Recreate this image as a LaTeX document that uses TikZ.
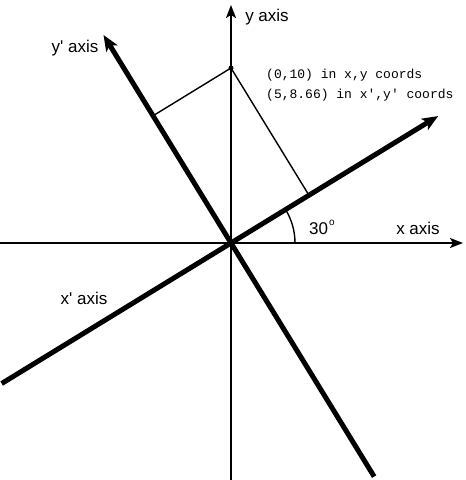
\documentclass[tikz,border=0pt]{standalone}
\usepackage{fontspec}
\setmainfont{Liberation Sans}
\newfontfamily\monofont{Liberation Mono}
\usetikzlibrary{arrows.meta,calc}
\begin{document}
\begin{tikzpicture}[x=1pt,y=1pt,
  thinaxis/.style={line width=2pt,-{Stealth[length=13pt,width=10pt,inset=3pt]}},
  thickaxis/.style={line width=5pt,-{Stealth[length=16pt,width=13pt,inset=4pt]}},
  proj/.style={line width=1.4pt},
  lab/.style={font=\fontsize{17}{19}\selectfont, inner sep=0pt},
  mono/.style={font=\monofont\fontsize{13}{15}\selectfont, inner sep=0pt, anchor=west}]
\useasboundingbox (0,0) rectangle (466,480);
\coordinate (O) at (231,237);
\coordinate (xL) at (0,237);
\coordinate (xR) at (463,237);
\coordinate (yB) at (231,0);
\coordinate (yT) at (231,475);
\coordinate (xpL) at ($(O)+(211.5:269)$);
\coordinate (xpR) at ($(O)+(31.5:243)$);
\coordinate (ypB) at ($(O)+(301.5:274)$);
\coordinate (ypT) at ($(O)+(121.5:244)$);
\coordinate (P) at (231,412);
\coordinate (Fx) at ($(O)!(P)!(xpR)$);
\coordinate (Fy) at ($(O)!(P)!(ypT)$);
\draw[thinaxis] (xL) -- (xR);
\draw[thinaxis] (yB) -- (yT);
\draw[thickaxis] (xpL) -- (xpR);
\draw[thickaxis] (ypB) -- (ypT);
\draw[proj] (Fy) -- (P) -- (Fx);
\fill (P) circle (2.5);
\draw[line width=1.4pt] ($(O)+(64,0)$) arc[start angle=0,end angle=31.5,radius=64];
\node[lab] (ly) at (267,463) {y axis};
\node[lab] (lyp) at (75,432) {y\textquotesingle{} axis};
\node[lab] (lx) at (418,252) {x axis};
\node[lab] (lxp) at (84,182) {x\textquotesingle{} axis};
\node[lab, anchor=base west] (la) at (309,245) {30\hspace{1pt}\raisebox{9pt}{\fontsize{10}{10}\selectfont o}};
\node[mono] (t1) at (266,405) {(0,10) in x,y coords};
\node[mono] (t2) at (266,385) {(5,8.66) in x\textquotesingle,y\textquotesingle{} coords};
\end{tikzpicture}
\end{document}
